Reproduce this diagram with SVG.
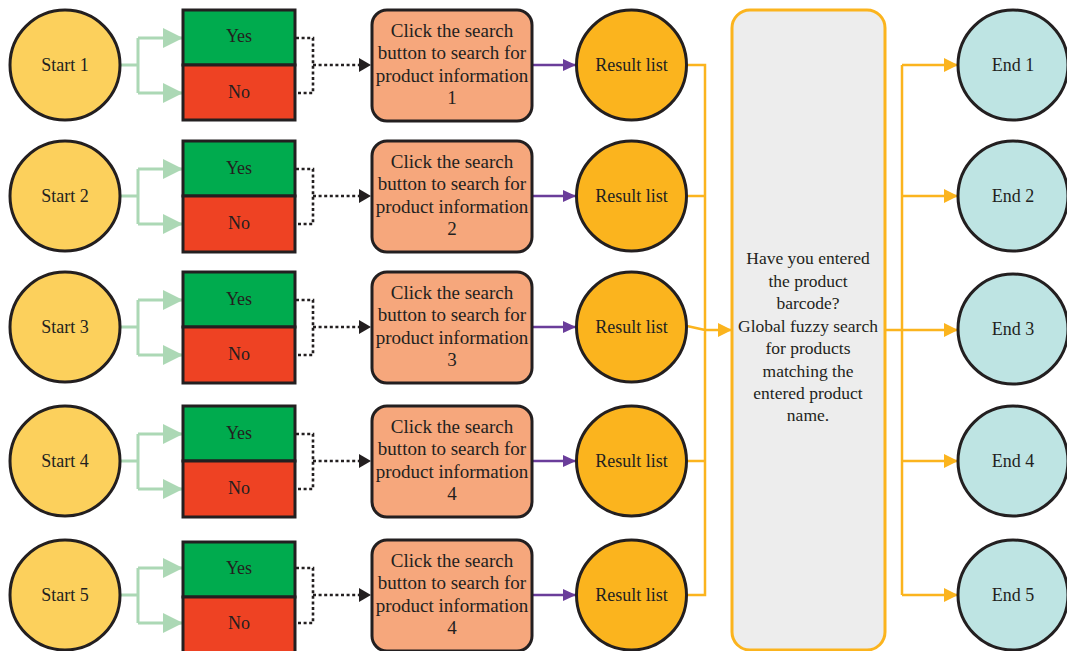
<svg xmlns="http://www.w3.org/2000/svg" width="1067" height="651" viewBox="0 0 1067 651">
<style>
text{font-family:"Liberation Serif","Times New Roman",serif;fill:#231f20;text-anchor:middle;font-size:18px}
.act text{font-size:19px}
.start{fill:#fcd05c;stroke:#231f20;stroke-width:3}
.res{fill:#fbb41e;stroke:#231f20;stroke-width:3}
.end{fill:#bee4e3;stroke:#231f20;stroke-width:3}
.yes{fill:#00ab4e;stroke:#231f20;stroke-width:3}
.no{fill:#ee4223;stroke:#231f20;stroke-width:3}
.box{fill:#f6a77c;stroke:#231f20;stroke-width:3}
.grn{fill:none;stroke:#acd8b5;stroke-width:3}
.dot{fill:none;stroke:#231f20;stroke-width:2.6;stroke-dasharray:3 2.6}
.pur{fill:none;stroke:#6a3d9a;stroke-width:2.5}
.yel{fill:none;stroke:#fbb41e;stroke-width:2.5}
.big{font-size:17.5px}
</style>
<defs>
<marker id="ag" markerUnits="userSpaceOnUse" markerWidth="22" markerHeight="22" refX="20" refY="10" orient="auto"><path d="M0,0 L20,10 L0,20 Z" fill="#acd8b5"/></marker>
<marker id="ab" markerUnits="userSpaceOnUse" markerWidth="14" markerHeight="16" refX="12" refY="7" orient="auto"><path d="M0,0 L12,7 L0,14 Z" fill="#231f20"/></marker>
<marker id="ap" markerUnits="userSpaceOnUse" markerWidth="14" markerHeight="14" refX="13" refY="6" orient="auto"><path d="M0,0 L13,6 L0,12 Z" fill="#6a3d9a"/></marker>
<marker id="ay" markerUnits="userSpaceOnUse" markerWidth="16" markerHeight="16" refX="14" refY="7" orient="auto"><path d="M0,0 L14,7 L0,14 Z" fill="#fbb41e"/></marker>
</defs>

<g id="connectors">
<!-- row 1 -->
<path class="grn" d="M121,65 H138 M138,38 V93 M138,38 H183" marker-end="url(#ag)"/>
<path class="grn" d="M138,93 H183" marker-end="url(#ag)"/>
<path class="dot" d="M296,38 H313 V93 H296 M313,65 H360"/>
<path class="dot" d="M355,65 H371" marker-end="url(#ab)" stroke-opacity="0"/>
<path class="pur" d="M533,65 H576" marker-end="url(#ap)"/>
<!-- row 2 -->
<path class="grn" d="M121,196 H138 M138,169 V224 M138,169 H183" marker-end="url(#ag)"/>
<path class="grn" d="M138,224 H183" marker-end="url(#ag)"/>
<path class="dot" d="M296,169 H313 V224 H296 M313,196 H360"/>
<path class="dot" d="M355,196 H371" marker-end="url(#ab)" stroke-opacity="0"/>
<path class="pur" d="M533,196 H576" marker-end="url(#ap)"/>
<!-- row 3 -->
<path class="grn" d="M121,327 H138 M138,300 V355 M138,300 H183" marker-end="url(#ag)"/>
<path class="grn" d="M138,355 H183" marker-end="url(#ag)"/>
<path class="dot" d="M296,300 H313 V355 H296 M313,327 H360"/>
<path class="dot" d="M355,327 H371" marker-end="url(#ab)" stroke-opacity="0"/>
<path class="pur" d="M533,327 H576" marker-end="url(#ap)"/>
<!-- row 4 -->
<path class="grn" d="M121,461 H138 M138,434 V489 M138,434 H183" marker-end="url(#ag)"/>
<path class="grn" d="M138,489 H183" marker-end="url(#ag)"/>
<path class="dot" d="M296,434 H313 V489 H296 M313,461 H360"/>
<path class="dot" d="M355,461 H371" marker-end="url(#ab)" stroke-opacity="0"/>
<path class="pur" d="M533,461 H576" marker-end="url(#ap)"/>
<!-- row 5 -->
<path class="grn" d="M121,595 H138 M138,568 V623 M138,568 H183" marker-end="url(#ag)"/>
<path class="grn" d="M138,623 H183" marker-end="url(#ag)"/>
<path class="dot" d="M296,568 H313 V623 H296 M313,595 H360"/>
<path class="dot" d="M355,595 H371" marker-end="url(#ab)" stroke-opacity="0"/>
<path class="pur" d="M533,595 H576" marker-end="url(#ap)"/>
<!-- results to decision -->
<path class="yel" d="M687,65 H705 V595 H687 M687,196 H705 M687,461 H705 M687,326 L705,330"/>
<path class="yel" d="M705,330 H732" marker-end="url(#ay)"/>
<!-- decision to ends -->
<path class="yel" d="M886,330 H902 M902,65 V595"/>
<path class="yel" d="M902,65 H958" marker-end="url(#ay)"/>
<path class="yel" d="M902,196 H958" marker-end="url(#ay)"/>
<path class="yel" d="M902,330 H958" marker-end="url(#ay)"/>
<path class="yel" d="M902,461 H958" marker-end="url(#ay)"/>
<path class="yel" d="M902,595 H958" marker-end="url(#ay)"/>
</g>

<g id="start1"><circle class="start" cx="65" cy="65" r="55"/><text x="65" y="71">Start 1</text></g>
<g id="start2"><circle class="start" cx="65" cy="196" r="55"/><text x="65" y="202">Start 2</text></g>
<g id="start3"><circle class="start" cx="65" cy="327" r="55"/><text x="65" y="333">Start 3</text></g>
<g id="start4"><circle class="start" cx="65" cy="461" r="55"/><text x="65" y="467">Start 4</text></g>
<g id="start5"><circle class="start" cx="65" cy="595" r="55"/><text x="65" y="601">Start 5</text></g>

<g id="choice1"><rect class="yes" x="183" y="10" width="112" height="55"/><rect class="no" x="183" y="65" width="112" height="55"/><text x="239" y="42">Yes</text><text x="239" y="98">No</text></g>
<g id="choice2"><rect class="yes" x="183" y="141" width="112" height="55"/><rect class="no" x="183" y="196" width="112" height="56"/><text x="239" y="174">Yes</text><text x="239" y="229">No</text></g>
<g id="choice3"><rect class="yes" x="183" y="272" width="112" height="55"/><rect class="no" x="183" y="327" width="112" height="56"/><text x="239" y="305">Yes</text><text x="239" y="360">No</text></g>
<g id="choice4"><rect class="yes" x="183" y="406" width="112" height="55"/><rect class="no" x="183" y="461" width="112" height="56"/><text x="239" y="439">Yes</text><text x="239" y="494">No</text></g>
<g id="choice5"><rect class="yes" x="183" y="542" width="112" height="55"/><rect class="no" x="183" y="597" width="112" height="60"/><text x="239" y="574">Yes</text><text x="239" y="629">No</text></g>

<g id="action1" class="act"><rect class="box" x="372" y="10" width="160" height="111" rx="15"/><text x="452" y="37">Click the search</text><text x="452" y="59">button to search for</text><text x="452" y="82">product information</text><text x="452" y="104">1</text></g>
<g id="action2" class="act"><rect class="box" x="372" y="141" width="160" height="111" rx="15"/><text x="452" y="168">Click the search</text><text x="452" y="190">button to search for</text><text x="452" y="213">product information</text><text x="452" y="235">2</text></g>
<g id="action3" class="act"><rect class="box" x="372" y="272" width="160" height="111" rx="15"/><text x="452" y="299">Click the search</text><text x="452" y="321">button to search for</text><text x="452" y="344">product information</text><text x="452" y="366">3</text></g>
<g id="action4" class="act"><rect class="box" x="372" y="406" width="160" height="111" rx="15"/><text x="452" y="433">Click the search</text><text x="452" y="455">button to search for</text><text x="452" y="478">product information</text><text x="452" y="500">4</text></g>
<g id="action5" class="act"><rect class="box" x="372" y="540" width="160" height="111" rx="15"/><text x="452" y="567">Click the search</text><text x="452" y="589">button to search for</text><text x="452" y="612">product information</text><text x="452" y="634">4</text></g>

<g id="result1"><circle class="res" cx="631.5" cy="65" r="55"/><text x="631.5" y="71">Result list</text></g>
<g id="result2"><circle class="res" cx="631.5" cy="196" r="55"/><text x="631.5" y="202">Result list</text></g>
<g id="result3"><circle class="res" cx="631.5" cy="327" r="55"/><text x="631.5" y="333">Result list</text></g>
<g id="result4"><circle class="res" cx="631.5" cy="461" r="55"/><text x="631.5" y="467">Result list</text></g>
<g id="result5"><circle class="res" cx="631.5" cy="595" r="55"/><text x="631.5" y="601">Result list</text></g>

<g id="decision"><rect x="732" y="10" width="153" height="640" rx="18" fill="#ededed" stroke="#fbb41e" stroke-width="3"/>
<text class="big" x="808" y="264">Have you entered</text>
<text class="big" x="808" y="287">the product</text>
<text class="big" x="808" y="309">barcode?</text>
<text class="big" x="808" y="332">Global fuzzy search</text>
<text class="big" x="808" y="354">for products</text>
<text class="big" x="808" y="377">matching the</text>
<text class="big" x="808" y="399">entered product</text>
<text class="big" x="808" y="421">name.</text></g>

<g id="end1"><circle class="end" cx="1013" cy="65" r="55"/><text x="1013" y="71">End 1</text></g>
<g id="end2"><circle class="end" cx="1013" cy="196" r="55"/><text x="1013" y="202">End 2</text></g>
<g id="end3"><circle class="end" cx="1013" cy="329" r="55"/><text x="1013" y="335">End 3</text></g>
<g id="end4"><circle class="end" cx="1013" cy="461" r="55"/><text x="1013" y="467">End 4</text></g>
<g id="end5"><circle class="end" cx="1013" cy="595" r="55"/><text x="1013" y="601">End 5</text></g>
</svg>
